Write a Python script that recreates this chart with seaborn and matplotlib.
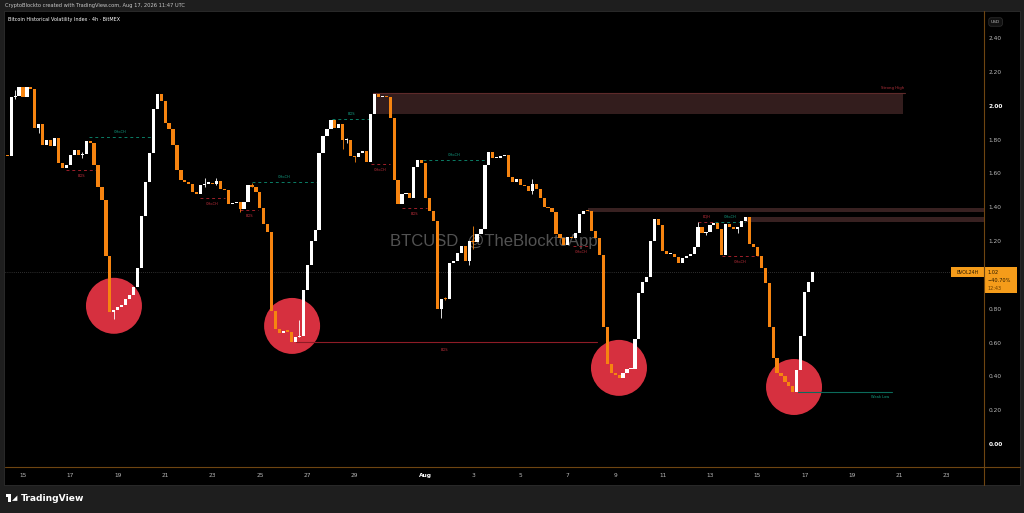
import numpy as np
import pandas as pd
import matplotlib.pyplot as plt
import seaborn as sns
from matplotlib.patches import Rectangle, Ellipse
from matplotlib.lines import Line2D

# ---- data (4h candles) ----
first_open = 1.71
closes = [
    1.70, 2.05, 2.06, 2.11, 2.05, 2.11, 2.10, 1.87, 1.89, 1.77,
    1.80, 1.76, 1.81, 1.66, 1.63, 1.65, 1.71, 1.74, 1.71, 1.715,
    1.79, 1.78, 1.65, 1.52, 1.44, 1.11, 0.78, 0.79, 0.81, 0.82,
    0.86, 0.88, 0.93, 1.04, 1.35, 1.55, 1.72, 1.98, 2.07, 2.03,
    1.90, 1.86, 1.77, 1.62, 1.56, 1.55, 1.54, 1.49, 1.48, 1.53,
    1.54, 1.545, 1.535, 1.553, 1.51, 1.50, 1.42, 1.426, 1.43, 1.39,
    1.43, 1.533, 1.52, 1.49, 1.395, 1.30, 1.253, 0.784, 0.68, 0.656,
    0.666, 0.665, 0.605, 0.633, 0.64, 0.91, 1.06, 1.20, 1.265, 1.72,
    1.82, 1.864, 1.917, 1.87, 1.89, 1.795, 1.80, 1.70, 1.695, 1.72,
    1.73, 1.665, 1.95, 2.07, 2.05, 2.055, 2.05, 1.93, 1.56, 1.42,
    1.48, 1.485, 1.455, 1.64, 1.68, 1.66, 1.455, 1.38, 1.32, 0.80,
    0.86, 0.858, 1.07, 1.083, 1.13, 1.173, 1.083, 1.20, 1.195, 1.24,
    1.27, 1.652, 1.726, 1.69, 1.693, 1.70, 1.71, 1.58, 1.55, 1.565,
    1.53, 1.525, 1.495, 1.54, 1.505, 1.455, 1.40, 1.395, 1.37, 1.24,
    1.215, 1.175, 1.226, 1.215, 1.25, 1.36, 1.378, 1.375, 1.26, 1.215,
    1.115, 0.69, 0.47, 0.42, 0.41, 0.39, 0.418, 0.442, 0.445, 0.621,
    0.891, 0.960, 0.990, 1.201, 1.331, 1.292, 1.142, 1.122, 1.125, 1.108,
    1.069, 1.099, 1.112, 1.124, 1.163, 1.280, 1.250, 1.253, 1.292, 1.306,
    1.272, 1.118, 1.300, 1.280, 1.272, 1.280, 1.321, 1.343, 1.181, 1.163,
    1.112, 1.039, 0.950, 0.690, 0.511, 0.422, 0.403, 0.369, 0.340, 0.310,
    0.438, 0.641, 0.901, 0.960, 1.019,
]
# visible wicks: candle number -> (low, high)
wicks = {
    3: (2.04, 2.09), 9: (1.84, 1.89), 20: (1.69, 1.725), 28: (0.74, 0.79),
    51: (1.52, 1.57), 54: (1.53, 1.57), 60: (1.37, 1.43), 63: (1.52, 1.545),
    75: (0.633, 0.734), 86: (1.745, 1.89), 87: (1.78, 1.81), 89: (1.67, 1.70),
    111: (0.745, 0.86), 112: (0.85, 0.87), 118: (1.06, 1.20), 119: (1.15, 1.29),
    134: (1.48, 1.565), 176: (1.25, 1.31), 178: (1.235, 1.255), 186: (1.245, 1.285),
}

tick_days = [1, 3, 5, 7, 9, 11, 13, 15, 18, 20, 22, 24, 26, 28, 30, 32, 34, 36, 38, 40]
tick_labels = ["15", "17", "19", "21", "23", "25", "27", "29", "Aug", "3", "5",
               "7", "9", "11", "13", "15", "17", "19", "21", "23"]
price_ticks = [0.0, 0.2, 0.4, 0.6, 0.8, 1.0, 1.2, 1.4, 1.6, 1.8, 2.0, 2.2, 2.4]

# structure marks: (label, x0, x1, price, colour kind)
struct_lines = [
    ("CHoCH", 3.79, 6.45, 1.815, "g"),
    ("BOS", 2.82, 4.12, 1.621, "r"),
    ("CHoCH", 8.47, 9.53, 1.456, "r"),
    ("CHoCH", 10.67, 13.41, 1.550, "g"),
    ("BOS", 10.16, 10.92, 1.385, "r"),
    ("BOS", 14.04, 15.69, 1.923, "g"),
    ("CHoCH", 15.69, 16.49, 1.657, "r"),
    ("BOS", 17.00, 18.05, 1.396, "r"),
    ("CHoCH", 17.88, 20.50, 1.680, "g"),
    ("CHoCH", 24.22, 24.93, 1.172, "r"),
    ("EQH", 29.49, 30.21, 1.314, "r"),
    ("CHoCH", 30.21, 31.48, 1.314, "g"),
    ("CHoCH", 30.51, 32.03, 1.112, "r"),
]
circles = [(4.84, 0.817), (12.36, 0.698), (26.16, 0.45), (33.55, 0.337)]

# ---- build candle table ----
df = pd.DataFrame({"close": closes})
df["open"] = [first_open] + closes[:-1]
df["num"] = np.arange(1, len(df) + 1)
df["day"] = 1 / 3 + (df["num"] - 1) / 6
df["up"] = df["close"] >= df["open"]
df["bottom"] = df[["open", "close"]].min(axis=1)
df["height"] = (df["close"] - df["open"]).abs().clip(lower=0.006)

UP = "#ffffff"
DOWN = "#f68410"
RED = "#9e1f2a"
GREEN = "#0b7d66"

sns.set_theme(style="dark", rc={"axes.facecolor": "black", "figure.facecolor": "#1e1e1e"})
plt.rcParams["font.family"] = ["DejaVu Sans"]

W, H = 1024, 513
fig = plt.figure(figsize=(10.24, 5.13), dpi=100)
fig.patch.set_facecolor("#1e1e1e")


def fx(px):
    return px / W


def fy(py):
    return 1 - py / H


fig.patches.append(Rectangle((fx(4), fy(485)), fx(1016), (485 - 11) / H,
                             transform=fig.transFigure, facecolor="black",
                             edgecolor="#2e2e2e", lw=0.6, zorder=-5))

ax = fig.add_axes([fx(5), fy(467), fx(979), (467 - 13) / H])
ax.set_facecolor("black")
ax.set_xlim(0.24, 41.57)
ax.set_ylim(-0.136, 2.548)

# zones
ax.add_patch(Rectangle((df.loc[93, "day"] - 0.06, 1.953), 38.23 - df.loc[93, "day"], 2.077 - 1.953,
                       facecolor="#331d1d", edgecolor="none", zorder=1))
ax.plot([df.loc[93, "day"] - 0.06, 38.23], [2.077, 2.077], color="#5e2a2a", lw=0.8, zorder=1)
ax.add_patch(Rectangle((df.loc[147, "day"], 1.374), 41.57 - df.loc[147, "day"], 0.02,
                       facecolor="#382121", edgecolor="none", zorder=1))
ax.add_patch(Rectangle((df.loc[187, "day"], 1.315), 41.57 - df.loc[187, "day"], 0.028,
                       facecolor="#382121", edgecolor="none", zorder=1))
ax.text(38.2, 2.107, "Strong High", color="#b0303a", fontsize=2.8, ha="right", va="center")

# watermark
ax.text(20.88, 1.20, "BTCUSD  @TheBlocktoApp", color="#8a8a8a", alpha=0.6,
        fontsize=12, family="Liberation Sans", ha="center", va="center", zorder=1)

# last price line
ax.axhline(closes[-1], color="#5a5a5a", lw=0.5, ls=(0, (1, 2)), zorder=1)

# red circles
for cx, cy in circles:
    ax.add_patch(Ellipse((cx, cy), 2.364, 0.331, facecolor="#d6303f", edgecolor="none", zorder=2))

# candles
colors = np.where(df["up"], UP, DOWN)
ax.bar(df["day"], df["height"], bottom=df["bottom"], width=0.135, color=colors,
       linewidth=0, zorder=3)
for num, (lo, hi) in wicks.items():
    r = df.loc[num - 1]
    ax.vlines(r["day"], lo, hi, color=UP if r["up"] else DOWN, lw=0.6, zorder=3)

# structure lines
for label, x0, x1, y, kind in struct_lines:
    col = GREEN if kind == "g" else RED
    ax.plot([x0, x1], [y, y], color=col, lw=0.7, ls=(0, (3, 3)), zorder=2)
    above = (kind == "g") or label == "EQH"
    ax.text((x0 + x1) / 2, y + (0.03 if above else -0.035), label,
            color="#14a085" if kind == "g" else "#c0303c", fontsize=2.6,
            ha="center", va="center")

# solid BOS and weak low
ax.plot([12.52, 25.23], [0.604, 0.604], color="#8e1c26", lw=0.8, zorder=2)
ax.text(18.81, 0.556, "BOS", color="#c0303c", fontsize=2.6, ha="center", va="center")
ax.plot([33.71, 37.68], [0.308, 0.308], color="#0b6b5b", lw=0.8, zorder=2)
ax.text(37.18, 0.278, "Weak Low", color="#14a085", fontsize=2.6, ha="center", va="center")

# axes styling
for s in ["top", "left", "right", "bottom"]:
    ax.spines[s].set_visible(False)
ax.grid(False)
ax.yaxis.tick_right()
ax.set_yticks(price_ticks)
ax.set_yticklabels([f"{v:.2f}" for v in price_ticks])
ax.set_xticks(tick_days)
ax.set_xticklabels(tick_labels)
ax.tick_params(axis="y", length=0, pad=3.5, labelsize=4.2, labelcolor="#b8b8b8")
ax.tick_params(axis="x", length=0, pad=4.5, labelsize=4.2, labelcolor="#b8b8b8")
for lab in ax.get_yticklabels():
    if lab.get_text() in ("2.00", "0.00"):
        lab.set_color("white")
        lab.set_fontweight("bold")
for lab in ax.get_xticklabels():
    if lab.get_text() == "Aug":
        lab.set_color("white")
        lab.set_fontweight("bold")

# axis borders
fig.add_artist(Line2D([fx(984), fx(984)], [fy(11), fy(485)], color="#6e4511", lw=0.8))
fig.add_artist(Line2D([fx(5), fx(1020)], [fy(467), fy(467)], color="#6e4511", lw=0.8))

# last price labels
fig.patches.append(Rectangle((fx(951), fy(277)), fx(33), 10 / H, transform=fig.transFigure,
                             facecolor="#f59c1a", edgecolor="none"))
fig.text(fx(967.5), fy(272), "BVOL24H", color="#2a1a00", fontsize=3.4, ha="center", va="center")
fig.patches.append(Rectangle((fx(984), fy(293)), fx(33), 26 / H, transform=fig.transFigure,
                             facecolor="#f59c1a", edgecolor="none"))
fig.text(fx(988), fy(272), "1.02", color="#2a1a00", fontsize=3.6, ha="left", va="center")
fig.text(fx(988), fy(280), "\u221240.70%", color="#2a1a00", fontsize=3.6, ha="left", va="center")
fig.text(fx(988), fy(288), "12:43", color="#6b3e00", fontsize=3.6, ha="left", va="center")

# USD box
fig.text(fx(991), fy(22), "USD", color="#b8b8b8", fontsize=3.2, ha="left", va="center",
         bbox=dict(boxstyle="round,pad=0.5", fc="#111111", ec="#333333", lw=0.5))

# header texts
fig.text(fx(5), fy(6), "CryptoBlockto created with TradingView.com, Aug 17, 2026 11:47 UTC",
         color="#c8c8c8", fontsize=3.7, ha="left", va="center")
fig.text(fx(8), fy(20), "Bitcoin Historical Volatility Index \u00b7 4h \u00b7 BitMEX",
         color="white", fontsize=3.5, ha="left", va="center")

# TradingView logo
fig.patches.append(Rectangle((fx(8), fy(502)), fx(3), 8 / H, transform=fig.transFigure,
                             facecolor="white", edgecolor="none"))
fig.patches.append(Rectangle((fx(6), fy(497)), fx(5), 3 / H, transform=fig.transFigure,
                             facecolor="white", edgecolor="none"))
fig.text(fx(11.5), fy(498.5), "\u25e2", color="white", fontsize=5, ha="left", va="center")
fig.text(fx(21), fy(498.5), "TradingView", color="white", fontsize=6.6, fontweight="bold",
         ha="left", va="center")

fig.savefig("out.png", dpi=100, facecolor=fig.get_facecolor())
